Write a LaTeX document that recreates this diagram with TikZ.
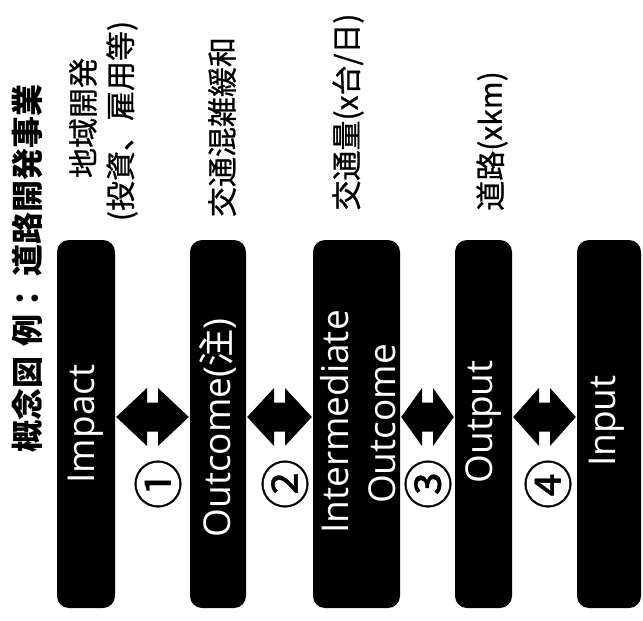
\documentclass[tikz,border=0pt]{standalone}
\usepackage{fontspec}
\setmainfont{Open Sans}
\newfontfamily\cjk{Noto Sans CJK JP}
\newfontfamily\cjkm[FakeBold=0.8]{Noto Sans CJK JP}
\usetikzlibrary{calc}
\tikzset{
  stagebox/.style={fill=black, draw=none, rounded corners=12pt, inner sep=0pt, minimum height=368pt},
  boxtext/.style={text=white, rotate=90, inner sep=0pt, font=\fontsize{37}{44}\selectfont},
  toptext/.style={rotate=90, inner sep=0pt, font=\cjkm\fontsize{30}{36}\selectfont},
  titletext/.style={rotate=90, inner sep=0pt, font=\cjk\bfseries\fontsize{32}{38}\selectfont},
  numtext/.style={rotate=90, inner sep=0pt, font=\cjkm\fontsize{50}{54}\selectfont},
  arrowfill/.style={fill=black, draw=none}
}
\newcommand\notcharrow[2]{%
  \fill[arrowfill] let \p1=(#1.east), \p2=(#2.west), \n1={(\x2-\x1-13pt)/2} in
    ({\x1+1pt},-417pt) -- ({\x1+1pt+\n1*1pt},-388pt) -- ({\x1+1pt+\n1*1pt},-402.5pt)
    -- ({\x2-1pt-\n1*1pt},-402.5pt) -- ({\x2-1pt-\n1*1pt},-388pt) -- ({\x2-1pt},-417pt)
    -- ({\x2-1pt-\n1*1pt},-446pt) -- ({\x2-1pt-\n1*1pt},-431.5pt) -- ({\x1+1pt+\n1*1pt},-431.5pt)
    -- ({\x1+1pt+\n1*1pt},-446pt) -- cycle;}
\begin{document}
\begin{tikzpicture}[x=1pt,y=1pt]
\useasboundingbox[fill=white] (0,0) rectangle (643,-621);
% boxes
\node[stagebox, minimum width=58pt] (impact) at (86,-424) {};
\node[stagebox, minimum width=56pt] (outcome) at (218,-424) {};
\node[stagebox, minimum width=87pt] (inter) at (356.5,-424) {};
\node[stagebox, minimum width=57pt] (output) at (483.5,-424) {};
\node[stagebox, minimum width=64pt] (input) at (609,-424) {};
% box texts
\node[boxtext] (impactT) at (86,-424) {Impact};
\node[boxtext] (outcomeT) at (218,-428) {Outcome({\cjk 注})};
\node[boxtext] (interT1) at (335,-422) {Intermediate};
\node[boxtext] (interT2) at (382,-424) {Outcome};
\node[boxtext] (outputT) at (484,-422) {Output};
\node[boxtext] (inputT) at (607,-421) {Input};
% arrows
\notcharrow{impact}{outcome}
\notcharrow{outcome}{inter}
\notcharrow{inter}{output}
\notcharrow{output}{input}
% numbers
\node[numtext] (n1) at (158,-484) {①};
\node[numtext] (n2) at (285,-484) {②};
\node[numtext] (n3) at (428,-484) {③};
\node[numtext] (n4) at (548,-484) {④};
% top labels
\node[titletext] (title) at (27,-268) {概念図\hspace{10pt}例：\hspace{6pt}道路開発事業};
\node[toptext] (l1a) at (83,-118) {地域開発};
\node[toptext] (l1b) at (122,-121) {(投資、雇用等)};
\node[toptext] (l2) at (222,-127) {交通混雑緩和};
\node[toptext] (l3) at (348,-112) {交通量(x台/日)};
\node[toptext] (l4) at (492,-141) {道路(xkm)};
\end{tikzpicture}
\end{document}
